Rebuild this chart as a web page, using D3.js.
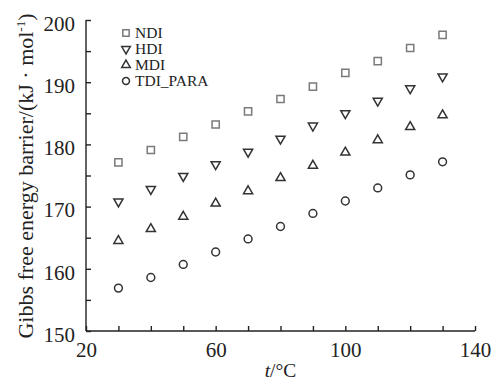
<!DOCTYPE html>
<html>
<head>
<meta charset="utf-8">
<script src="https://cdn.jsdelivr.net/npm/d3@7"></script>
<style>
  body { margin: 0; background: #fff; }
  svg { display: block; font-family: "Liberation Serif", "Times New Roman", serif; }
</style>
</head>
<body>
<div id="chart"></div>
<script>
const temps = [30, 40, 50, 60, 70, 80, 90, 100, 110, 120, 130]
const seriesNames = ['NDI', 'HDI', 'MDI', 'TDI_PARA']
const ndi = [177.1, 179.1, 181.2, 183.2, 185.3, 187.3, 189.3, 191.5, 193.4, 195.5, 197.6]
const hdi = [170.8, 172.8, 174.9, 176.8, 178.8, 180.9, 183.0, 185.0, 187.0, 189.0, 190.9]
const mdi = [164.5, 166.4, 168.4, 170.5, 172.5, 174.6, 176.6, 178.7, 180.7, 182.8, 184.7]
const tdi = [156.9, 158.6, 160.7, 162.7, 164.8, 166.8, 168.9, 170.9, 173.0, 175.1, 177.2]
const xTickLabels = [20, 60, 100, 140]
const yTickLabels = [150, 160, 170, 180, 190, 200]

const width = 495
const height = 385
const margin = { top: 20, right: 20, bottom: 54, left: 86 }

const svg = d3.select('#chart').append('svg')
  .attr('width', width)
  .attr('height', height)

const x = d3.scaleLinear().domain([20, 140]).range([margin.left, width - margin.right])
const y = d3.scaleLinear().domain([150, 200]).range([height - margin.bottom, margin.top])

// axes: ticks point inward
const xAxis = d3.axisBottom(x)
  .tickValues(d3.range(20, 141, 10))
  .tickSize(-5)
  .tickFormat(d => xTickLabels.includes(d) ? d : '')
const yAxis = d3.axisLeft(y)
  .tickValues(d3.range(150, 201, 5))
  .tickSize(-5)
  .tickFormat(d => yTickLabels.includes(d) ? d : '')

const gx = svg.append('g')
  .attr('transform', `translate(0,${y(150)})`)
  .call(xAxis)
gx.select('.domain').attr('d', `M${x(20)},0H${x(140)}`)
gx.selectAll('text').attr('y', 26).attr('dy', 0)

const gy = svg.append('g')
  .attr('transform', `translate(${x(20)},0)`)
  .call(yAxis)
gy.select('.domain').attr('d', `M0,${y(150)}V${y(200)}`)
gy.selectAll('text').attr('x', -11).attr('y', 3).attr('dy', '0.35em')

svg.selectAll('.domain, .tick line').attr('stroke', '#222').attr('stroke-width', 1.4)
svg.selectAll('.tick text')
  .attr('font-family', '"Liberation Serif", "Times New Roman", serif')
  .attr('font-size', 21)
  .attr('fill', '#222')

// axis titles
const yt = svg.append('text')
  .attr('transform', `translate(33,176) rotate(-90)`)
  .attr('text-anchor', 'middle')
  .attr('font-size', 22)
  .attr('fill', '#222')
yt.append('tspan').text('Gibbs free energy barrier/(kJ · mol')
yt.append('tspan').attr('dy', -8).attr('font-size', 13).text('-1')
yt.append('tspan').attr('dy', 8).text(')')

const xt = svg.append('text')
  .attr('x', x(80))
  .attr('y', 377)
  .attr('text-anchor', 'middle')
  .attr('font-size', 19.5)
  .attr('fill', '#222')
xt.append('tspan').attr('font-style', 'italic').text('t')
xt.append('tspan').text('/°C')

// markers
const symbols = [
  d3.symbol().type(d3.symbolSquare).size(52),
  d3.symbol().type(d3.symbolTriangle).size(36),
  d3.symbol().type(d3.symbolTriangle).size(36),
  d3.symbol().type(d3.symbolCircle).size(48)
]
const colors = ['#7a7a7a', '#333', '#333', '#333']
const rotations = [0, 180, 0, 0]
const seriesValues = [ndi, hdi, mdi, tdi]

seriesValues.forEach((vals, i) => {
  svg.append('g')
    .selectAll('path')
    .data(vals)
    .join('path')
    .attr('d', symbols[i]())
    .attr('transform', (d, j) => `translate(${x(temps[j])},${y(d)}) rotate(${rotations[i]})`)
    .attr('fill', 'none')
    .attr('stroke', colors[i])
    .attr('stroke-width', 1.5)
})

// legend
const legendSymbols = [
  d3.symbol().type(d3.symbolSquare).size(40),
  d3.symbol().type(d3.symbolTriangle).size(32),
  d3.symbol().type(d3.symbolTriangle).size(32),
  d3.symbol().type(d3.symbolCircle).size(38)
]
const legend = svg.append('g').attr('transform', 'translate(126,33)')
seriesNames.forEach((name, i) => {
  const row = legend.append('g').attr('transform', `translate(0,${i * 16})`)
  row.append('path')
    .attr('d', legendSymbols[i]())
    .attr('transform', `rotate(${rotations[i]})`)
    .attr('fill', 'none')
    .attr('stroke', colors[i])
    .attr('stroke-width', 1.5)
  row.append('text')
    .attr('x', 9)
    .attr('dy', '0.35em')
    .attr('font-size', 15.5)
    .attr('fill', '#222')
    .text(name)
})
</script>
</body>
</html>
